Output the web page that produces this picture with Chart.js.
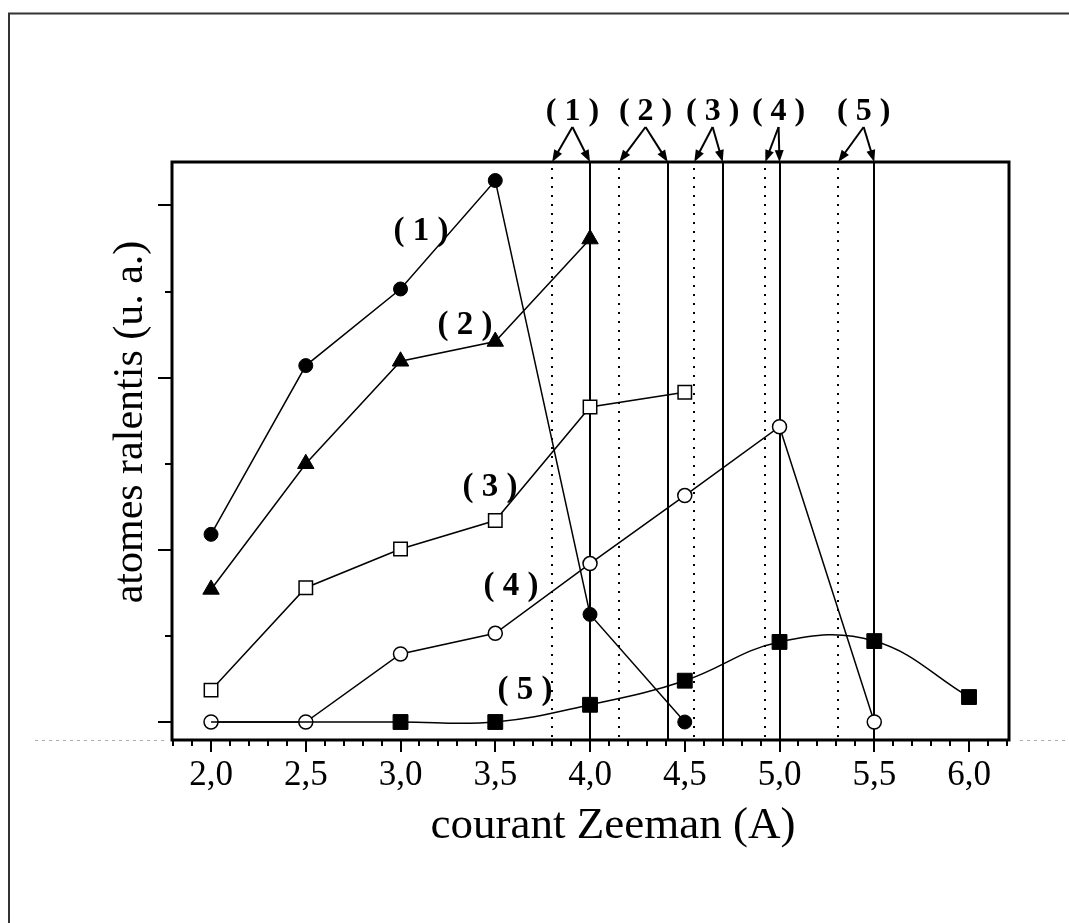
<!DOCTYPE html>
<html>
<head>
<meta charset="utf-8">
<script src="https://cdn.jsdelivr.net/npm/chart.js@4/dist/chart.umd.min.js"></script>
<style>
  html, body { margin: 0; padding: 0; background: #fff; }
  #wrap { width: 1069px; height: 923px; position: relative; }
</style>
</head>
<body>
<div id="wrap"><canvas id="myChart"></canvas></div>
<script>
//------Data------
const currents = [2.0, 2.5, 3.0, 3.5, 4.0, 4.5, 5.0, 5.5, 6.0];
const serie1 = [2.18, 4.14, 5.03, 6.29, 1.25, 0];
const serie2 = [1.54, 3.00, 4.19, 4.42, 5.61];
const serie3 = [0.37, 1.56, 2.01, 2.34, 3.66, 3.83];
const serie4 = [0, 0, 0.79, 1.03, 1.84, 2.63, 3.43, 0];
const serie5 = [0, 0, 0, 0, 0.20, 0.48, 0.93, 0.94, 0.29];

const xTickValues = [2.0, 2.5, 3.0, 3.5, 4.0, 4.5, 5.0, 5.5, 6.0];
const xTickLabels = ['2,0', '2,5', '3,0', '3,5', '4,0', '4,5', '5,0', '5,5', '6,0'];
const yTickValues = [0, 1, 2, 3, 4, 5, 6];

// seuils (traits pleins / pointillés) et leurs étiquettes
const solidLines = [4.0, 4.41, 4.70, 5.0, 5.5];
const dottedLines = [3.80, 4.155, 4.55, 4.925, 5.31];
const lineLabels = ['( 1 )', '( 2 )', '( 3 )', '( 4 )', '( 5 )'];
const lineLabelX = [3.907, 4.293, 4.647, 4.995, 5.444];

// étiquettes des courbes
const curveLabels = ['( 1 )', '( 2 )', '( 3 )', '( 4 )', '( 5 )'];
const curveLabelX = [3.108, 3.340, 3.472, 3.583, 3.657];
const curveLabelY = [5.70, 4.61, 2.72, 1.57, 0.37];
//--------------

const toPoints = (values) => values.map((v, i) => ({ x: currents[i], y: v }));
const serif = "'Liberation Serif', 'Times New Roman', serif";

function drawArrow(ctx, x1, y1, x2, y2) {
  const ang = Math.atan2(y2 - y1, x2 - x1);
  const len = 12, half = 4.5;
  ctx.beginPath();
  ctx.moveTo(x1, y1);
  ctx.lineTo(x2 - Math.cos(ang) * len * 0.8, y2 - Math.sin(ang) * len * 0.8);
  ctx.stroke();
  ctx.beginPath();
  ctx.moveTo(x2, y2);
  ctx.lineTo(x2 - Math.cos(ang) * len - Math.sin(ang) * half, y2 - Math.sin(ang) * len + Math.cos(ang) * half);
  ctx.lineTo(x2 - Math.cos(ang) * len + Math.sin(ang) * half, y2 - Math.sin(ang) * len - Math.cos(ang) * half);
  ctx.closePath();
  ctx.fill();
}

const decor = {
  id: 'decor',
  beforeDraw(chart) {
    const ctx = chart.ctx;
    ctx.save();
    // bord de la page scannée
    ctx.strokeStyle = '#333';
    ctx.lineWidth = 2;
    ctx.beginPath();
    ctx.moveTo(9, 923);
    ctx.lineTo(9, 13.5);
    ctx.lineTo(1069, 13.5);
    ctx.stroke();
    ctx.strokeStyle = '#aaa';
    ctx.lineWidth = 1;
    ctx.setLineDash([3, 4]);
    ctx.beginPath();
    ctx.moveTo(35, 740.5); ctx.lineTo(168, 740.5);
    ctx.moveTo(1020, 740.5); ctx.lineTo(1066, 740.5);
    ctx.stroke();
    ctx.restore();
  },
  beforeDatasetsDraw(chart) {
    const { ctx, chartArea, scales: { x } } = chart;
    ctx.save();
    ctx.strokeStyle = '#000';
    ctx.lineWidth = 2;
    solidLines.forEach((v) => {
      const px = Math.round(x.getPixelForValue(v));
      ctx.beginPath();
      ctx.moveTo(px, chartArea.top);
      ctx.lineTo(px, chartArea.bottom);
      ctx.stroke();
    });
    ctx.setLineDash([2, 7]);
    dottedLines.forEach((v) => {
      const px = Math.round(x.getPixelForValue(v));
      ctx.beginPath();
      ctx.moveTo(px, chartArea.top + 6);
      ctx.lineTo(px, chartArea.bottom);
      ctx.stroke();
    });
    ctx.restore();
  },
  afterDatasetsDraw(chart) {
    const { ctx, chartArea, scales: { x, y } } = chart;
    ctx.save();
    ctx.strokeStyle = '#000';
    ctx.fillStyle = '#000';

    // cadre
    ctx.lineWidth = 3;
    ctx.strokeRect(chartArea.left, chartArea.top, chartArea.right - chartArea.left, chartArea.bottom - chartArea.top);

    // graduations x
    ctx.lineWidth = 2;
    for (let k = 18; k <= 62; k++) {
      const px = Math.round(x.getPixelForValue(k / 10));
      const major = k % 5 === 0;
      ctx.beginPath();
      ctx.moveTo(px, chartArea.bottom);
      ctx.lineTo(px, chartArea.bottom + (major ? 12 : 6));
      ctx.stroke();
    }
    // graduations y
    yTickValues.forEach((v) => {
      const py = Math.round(y.getPixelForValue(v));
      ctx.beginPath();
      ctx.moveTo(chartArea.left, py);
      ctx.lineTo(chartArea.left - (v % 2 === 0 ? 14 : 7), py);
      ctx.stroke();
    });

    // flèches et étiquettes des seuils
    ctx.lineWidth = 2;
    ctx.font = 'bold 32px ' + serif;
    ctx.textAlign = 'center';
    ctx.textBaseline = 'alphabetic';
    lineLabels.forEach((lab, i) => {
      const ax = x.getPixelForValue(lineLabelX[i]);
      const ay = chartArea.top - 35;
      ctx.fillText(lab, ax, chartArea.top - 42);
      drawArrow(ctx, ax, ay, x.getPixelForValue(dottedLines[i]), chartArea.top);
      drawArrow(ctx, ax, ay, x.getPixelForValue(solidLines[i]), chartArea.top);
    });

    // étiquettes des courbes
    ctx.font = 'bold 33px ' + serif;
    ctx.textBaseline = 'middle';
    curveLabels.forEach((lab, i) => {
      ctx.fillText(lab, x.getPixelForValue(curveLabelX[i]), y.getPixelForValue(curveLabelY[i]));
    });

    // titres des axes
    ctx.font = '45px ' + serif;
    ctx.textBaseline = 'alphabetic';
    ctx.fillText('courant Zeeman (A)', 613, 838);
    ctx.save();
    ctx.translate(142, 422);
    ctx.rotate(-Math.PI / 2);
    ctx.font = '42px ' + serif;
    ctx.fillText('atomes ralentis (u. a.)', 0, 0);
    ctx.restore();

    ctx.restore();
  }
};

const ctxx = document.getElementById('myChart').getContext('2d');

new Chart(ctxx, {
  type: 'line',
  data: {
    datasets: [
      {
        label: '(5)',
        data: toPoints(serie5),
        borderColor: '#000',
        borderWidth: 1.5,
        tension: 0.4,
        pointStyle: 'rect',
        pointRadius: serie5.map((v, i) => (i < 2 ? 0 : 10.5)),
        pointBackgroundColor: '#000',
        pointBorderColor: '#000',
        pointBorderWidth: 1
      },
      {
        label: '(1)',
        data: toPoints(serie1),
        borderColor: '#000',
        borderWidth: 1.5,
        tension: 0,
        pointStyle: 'circle',
        pointRadius: 7,
        pointBackgroundColor: '#000',
        pointBorderColor: '#000',
        pointBorderWidth: 1
      },
      {
        label: '(2)',
        data: toPoints(serie2),
        borderColor: '#000',
        borderWidth: 1.5,
        tension: 0,
        pointStyle: 'triangle',
        pointRadius: 9.5,
        pointBackgroundColor: '#000',
        pointBorderColor: '#000',
        pointBorderWidth: 1
      },
      {
        label: '(3)',
        data: toPoints(serie3),
        borderColor: '#000',
        borderWidth: 1.5,
        tension: 0,
        pointStyle: 'rect',
        pointRadius: 9.5,
        pointBackgroundColor: '#fff',
        pointBorderColor: '#000',
        pointBorderWidth: 1.5
      },
      {
        label: '(4)',
        data: toPoints(serie4),
        borderColor: '#000',
        borderWidth: 1.5,
        tension: 0,
        pointStyle: 'circle',
        pointRadius: 7,
        pointBackgroundColor: '#fff',
        pointBorderColor: '#000',
        pointBorderWidth: 1.5
      }
    ]
  },
  options: {
    responsive: true,
    maintainAspectRatio: false,
    animation: false,
    layout: { padding: { top: 162, right: 60, left: 0, bottom: 0 } },
    plugins: {
      legend: { display: false },
      tooltip: { enabled: false }
    },
    scales: {
      x: {
        type: 'linear',
        position: 'bottom',
        min: 1.794,
        max: 6.211,
        grid: { display: false, drawTicks: false },
        border: { display: false },
        afterBuildTicks: (s) => { s.ticks = xTickValues.map((v) => ({ value: v })); },
        afterFit: (s) => { s.height = 183; },
        ticks: {
          autoSkip: false,
          maxRotation: 0,
          padding: 15,
          color: '#000',
          font: { family: serif, size: 35 },
          callback: (v, i) => xTickLabels[i]
        }
      },
      y: {
        type: 'linear',
        min: -0.209,
        max: 6.505,
        grid: { display: false, drawTicks: false },
        border: { display: false },
        afterFit: (s) => { s.width = 172; },
        ticks: { display: false }
      }
    }
  },
  plugins: [decor]
});
</script>
</body>
</html>
